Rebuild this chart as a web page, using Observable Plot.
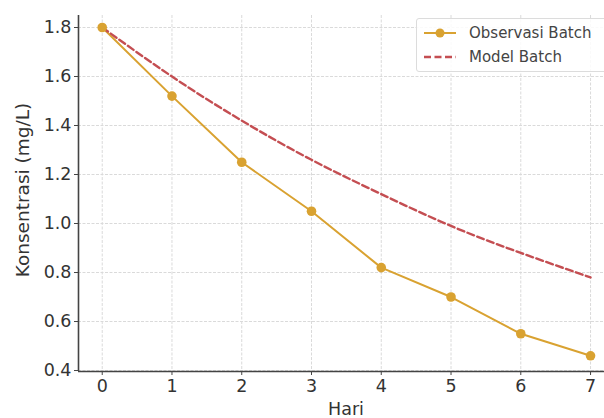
<!DOCTYPE html>
<html>
<head>
<meta charset="utf-8">
<script src="https://cdn.jsdelivr.net/npm/d3@7"></script>
<script src="https://cdn.jsdelivr.net/npm/@observablehq/plot@0.6"></script>
<style>
  html, body { margin: 0; padding: 0; background: white; }
  #wrap { position: relative; width: 604px; height: 418px; overflow: hidden; }
  #legend { position: absolute; left: 416px; top: 18px; width: 200px; height: 54px;
    border: 1px solid #dcdcdc; border-radius: 3px; background: rgba(255,255,255,0.85);
    font-family: "DejaVu Sans", sans-serif; font-size: 15px; color: #444; box-sizing: border-box; }
  .item { position: absolute; left: 0; height: 20px; display: flex; align-items: center; white-space: nowrap; }
  .item svg { margin-left: 6px; margin-right: 12px; }
</style>
</head>
<body>
<div id="wrap">
  <div id="chart"></div>
  <div id="legend">
    <div class="item" style="top:4px">
      <svg width="34" height="12"><line x1="1" y1="6" x2="33" y2="6" stroke="#D9A231" stroke-width="2"/><circle cx="17" cy="6" r="4.5" fill="#D9A231"/></svg>
      <span>Observasi Batch</span>
    </div>
    <div class="item" style="top:28px">
      <svg width="34" height="12"><line x1="1" y1="6" x2="33" y2="6" stroke="#C44E52" stroke-width="2.4" stroke-dasharray="7,3.5"/></svg>
      <span>Model Batch</span>
    </div>
  </div>
</div>
<script>
const hari = [0, 1, 2, 3, 4, 5, 6, 7];
const observasi = [1.80, 1.52, 1.25, 1.05, 0.82, 0.70, 0.55, 0.46];
const model = [1.80, 1.60, 1.42, 1.26, 1.12, 0.99, 0.88, 0.78];
const yTicks = [0.4, 0.6, 0.8, 1.0, 1.2, 1.4, 1.6, 1.8];

const obsData = hari.map((h, i) => ({hari: h, c: observasi[i]}));
const modelData = hari.map((h, i) => ({hari: h, c: model[i]}));

const xDom = [-0.34, 7.2];
const yDom = [0.396, 1.849];

const chart = Plot.plot({
  width: 604,
  height: 418,
  marginLeft: 78,
  marginRight: 0,
  marginTop: 15,
  marginBottom: 47,
  style: {fontFamily: "DejaVu Sans, sans-serif", background: "white", overflow: "hidden"},
  x: {domain: xDom, label: null},
  y: {domain: yDom, label: null},
  marks: [
    Plot.gridX(hari, {stroke: "#dadada", strokeOpacity: 1, strokeDasharray: "3,1.5"}),
    Plot.gridY(yTicks, {stroke: "#dadada", strokeOpacity: 1, strokeDasharray: "3,1.5"}),
    Plot.ruleX([xDom[0]], {stroke: "#444", strokeWidth: 1.6}),
    Plot.ruleY([yDom[0]], {stroke: "#444", strokeWidth: 1.6}),
    Plot.axisX(hari, {tickSize: 4, tickPadding: 4, fontSize: 17.5, stroke: "#444", fill: "#333", tickFormat: d => String(d), label: null}),
    Plot.axisY(yTicks, {tickSize: 4, tickPadding: 3, fontSize: 17.5, stroke: "#444", fill: "#333", tickFormat: d => d.toFixed(1), label: null}),
    Plot.line(obsData, {x: "hari", y: "c", stroke: "#D9A231", strokeWidth: 2}),
    Plot.line(modelData, {x: "hari", y: "c", stroke: "#C44E52", strokeWidth: 2.4, strokeDasharray: "7,3.5", curve: "natural"}),
    Plot.dot(obsData, {x: "hari", y: "c", fill: "#D9A231", r: 4.8})
  ]
});
document.getElementById("chart").appendChild(chart);

const svg = d3.select(chart);
svg.append("text").attr("x", 346).attr("y", 415).attr("text-anchor", "middle")
  .attr("font-size", 17.5).attr("fill", "#333").text("Hari");
svg.append("text").attr("transform", "translate(29,190) rotate(-90)").attr("text-anchor", "middle")
  .attr("font-size", 18.5).attr("fill", "#333").text("Konsentrasi (mg/L)");
</script>
</body>
</html>
